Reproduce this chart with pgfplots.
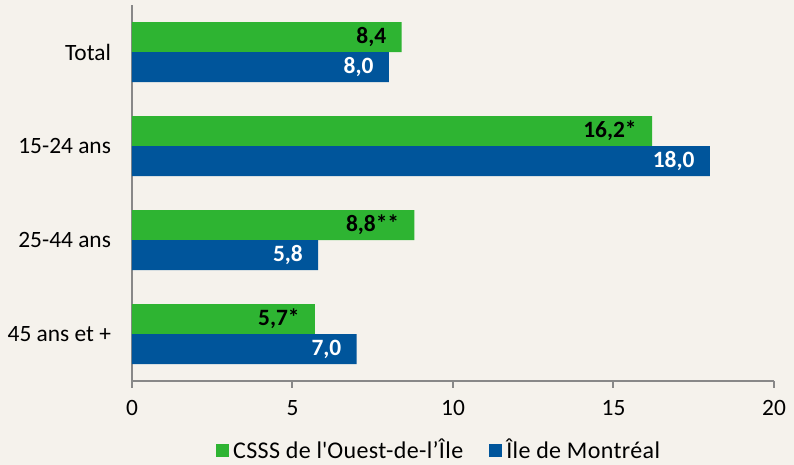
\documentclass[border=0pt]{standalone}
\usepackage{pgfplots}
\pgfplotsset{compat=1.18}
\usepackage{fontspec}
\setmainfont{Carlito}
\newfontfamily\legfont{Carlito}[LetterSpace=1.5]
\definecolor{bg}{HTML}{F5F2EC}
\definecolor{cgreen}{HTML}{2EB432}
\definecolor{cblue}{HTML}{00559B}
\definecolor{axgray}{HTML}{888888}
\begin{document}
\begin{tikzpicture}
\fill[bg] (0,0) rectangle (397pt,232.5pt);
\begin{axis}[
  at={(66pt,42pt)}, anchor=south west,
  scale only axis, width=321pt, height=188pt,
  xbar=0pt, bar width=15pt,
  xmin=0, xmax=20, ymin=-0.5, ymax=3.5,
  y dir=reverse,
  ytick={0,1,2,3},
  yticklabels={Total,15-24 ans,25-44 ans,45 ans et +},
  xtick={0,5,10,15,20},
  axis x line*=bottom, axis y line*=left,
  axis line style={-, draw=axgray, line width=1pt},
  x tick style={draw=axgray, line width=1pt},
  xtick align=outside, major tick length=3.5pt,
  y tick style={draw=none},
  /pgf/number format/assume math mode=true,
  tick label style={font=\fontsize{11.7}{13}\selectfont, text=black},
  xticklabel style={yshift=-2.5pt},
  yticklabel style={xshift=-3.5pt},
  point meta=explicit symbolic,
  nodes near coords,
  nodes near coords style={anchor=east, inner sep=0pt, xshift=-7.5pt, font=\fontsize{11.7}{13}\selectfont\bfseries},
  legend style={at={(0.48,-0.184)}, anchor=center, draw=none, fill=none,
    legend columns=2, font=\legfont\fontsize{12}{13}\selectfont,
    /tikz/every even column/.append style={column sep=11pt},
    inner sep=0pt},
  legend image code/.code={\fill[#1] (0pt,-3.25pt) rectangle (6.5pt,3.25pt);},
  legend cell align=left,
]
\addplot[fill=cgreen, draw=none, bar shift=7.5pt, nodes near coords style={text=black}] table[meta=lab] {
x y lab
8.4 0 8,4
16.2 1 16,2*
8.8 2 8,8**
5.7 3 5,7*
};
\addplot[fill=cblue, draw=none, bar shift=-7.5pt, nodes near coords style={text=white}] table[meta=lab] {
x y lab
8.0 0 8,0
18.0 1 18,0
5.8 2 5,8
7.0 3 7,0
};
\legend{CSSS de l\textquotesingle Ouest-de-l’Île, Île de Montréal}
\end{axis}
\draw[axgray, line width=1pt] (66pt,42pt) -- (66pt,38.5pt);
\pgfresetboundingbox
\path (0,0) rectangle (397pt,232.5pt);
\end{tikzpicture}
\end{document}
